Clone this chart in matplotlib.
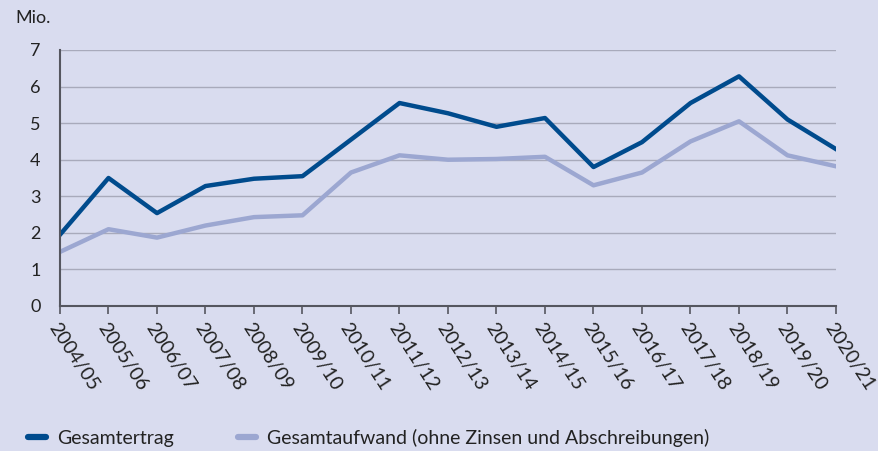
import matplotlib
matplotlib.use('Agg')
import matplotlib.pyplot as plt

years = ['2004/05', '2005/06', '2006/07', '2007/08', '2008/09', '2009/10', '2010/11', '2011/12',
         '2012/13', '2013/14', '2014/15', '2015/16', '2016/17', '2017/18', '2018/19', '2019/20', '2020/21']
ertrag = [1.95, 3.5, 2.54, 3.28, 3.48, 3.55, 4.55, 5.55, 5.27, 4.9, 5.14, 3.8, 4.48, 5.55, 6.28, 5.1, 4.29]
aufwand = [1.48, 2.1, 1.87, 2.2, 2.43, 2.48, 3.65, 4.12, 4.0, 4.02, 4.08, 3.3, 3.65, 4.5, 5.05, 4.12, 3.82]

bg = '#d9dcef'
dark = '#004b8d'
light = '#9ca7d1'

plt.rcParams['font.family'] = ['Lato', 'DejaVu Sans']

fig = plt.figure(figsize=(8.79, 4.51), dpi=100, facecolor=bg)
ax = fig.add_axes([60 / 879, 1 - 306 / 451, 776 / 879, 256 / 451], facecolor=bg)

x = range(len(years))
ax.plot(x, aufwand, color=light, linewidth=3.2, label='Gesamtaufwand (ohne Zinsen und Abschreibungen)')
ax.plot(x, ertrag, color=dark, linewidth=3.2, label='Gesamtertrag')

ax.set_xlim(0, len(years) - 1)
ax.set_ylim(0, 7)
ax.set_yticks(range(8))
ax.yaxis.grid(True, color='#a8aabb', linewidth=1)
ax.set_axisbelow(True)
for s in ['top', 'right']:
    ax.spines[s].set_visible(False)
for s in ['left', 'bottom']:
    ax.spines[s].set_color('#55565f')
    ax.spines[s].set_linewidth(1.5)
ax.tick_params(axis='y', length=0, pad=14, labelsize=13, labelcolor='#222222')
ax.tick_params(axis='x', length=6, width=1.2, color='#55565f', direction='out', pad=4)
ax.set_xticks(list(x))
ax.set_xticklabels(years, rotation=-57, ha='left', va='top', rotation_mode='anchor',
                   fontsize=14, color='#222222')

fig.text(15 / 879, 1 - 18 / 451, 'Mio.', fontsize=13, color='#222222', va='center')

handles, labels = ax.get_legend_handles_labels()
leg = fig.legend(handles[::-1], labels[::-1], loc='lower left', bbox_to_anchor=(0.012, -0.03), ncol=2,
                 frameon=False, fontsize=14, handlelength=0.9, handletextpad=0.6, columnspacing=3.3)
for t in leg.get_texts():
    t.set_color('#222222')
for line in leg.get_lines():
    line.set_linewidth(4.5)
    line.set_solid_capstyle('round')

fig.savefig('out.png', dpi=100, facecolor=bg)
